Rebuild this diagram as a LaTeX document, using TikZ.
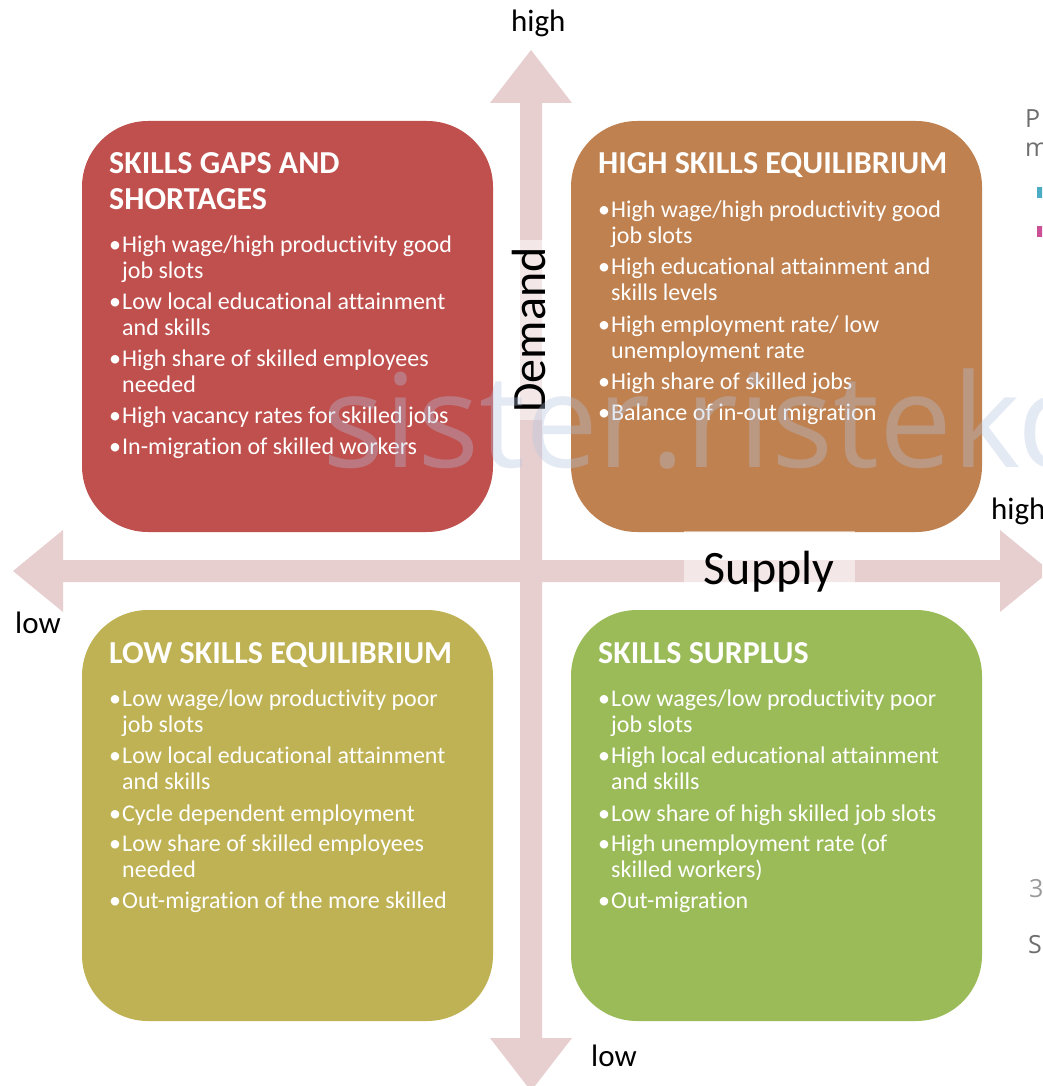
\documentclass[tikz,border=0pt]{standalone}
\usepackage{fontspec}
\setmainfont{Carlito}[Ligatures=NoCommon]
\newfontfamily\wmfont{Open Sans}
\definecolor{redbox}{RGB}{192,80,77}
\definecolor{orangebox}{RGB}{191,129,80}
\definecolor{olivebox}{RGB}{191,178,84}
\definecolor{greenbox}{RGB}{155,187,89}
\definecolor{arrowc}{RGB}{231,207,208}
\definecolor{wmc}{RGB}{180,196,224}
\definecolor{sidegray}{RGB}{110,110,110}
\definecolor{sideteal}{RGB}{75,172,198}
\definecolor{sidemag}{RGB}{204,80,150}
\newcommand\bl[4]{\node[btext] (#1) at (#2,#3) {\makebox[13pt][l]{•}#4};}
\newcommand\cl[4]{\node[btext] (#1) at (#2+13,#3) {#4};}
\newcommand\tl[4]{\node[ttext] (#1) at (#2,#3) {#4};}
\begin{document}
\begin{tikzpicture}[x=1pt,y=-1pt,
  quad/.style={rectangle, rounded corners=66pt, minimum width=411pt, minimum height=411pt, inner sep=0pt, draw=none},
  btext/.style={anchor=base west, inner sep=0pt, text=white, font=\fontsize{24}{26}\selectfont},
  ttext/.style={anchor=base west, inner sep=0pt, text=white, font=\fontsize{32}{35}\selectfont\bfseries},
  axlbl/.style={inner sep=0pt, text=black, font=\fontsize{31}{32}\selectfont},
  biglbl/.style={inner sep=0pt, text=black, font=\fontsize{48}{50}\selectfont},
  lblbg/.style={rectangle, fill=white, fill opacity=0.5, inner sep=0pt, draw=none},
  side/.style={anchor=base west, inner sep=0pt, text=sidegray, font=\wmfont\fontsize{25}{26}\selectfont}]
\useasboundingbox (0,0) rectangle (1042,1086);
\clip (0,0) rectangle (1042,1086);
\fill[white] (0,0) rectangle (1042,1086);
% axes
\fill[arrowc] (13,571) -- (63,530) -- (63,560) -- (1000,560) -- (1000,530) -- (1050,571)
  -- (1000,612) -- (1000,582) -- (63,582) -- (63,612) -- cycle;
\fill[arrowc] (531,50) -- (572,103) -- (542,103) -- (542,1038) -- (572,1038) -- (531,1091)
  -- (490,1038) -- (520,1038) -- (520,103) -- (490,103) -- cycle;
% quadrants
\node[quad, fill=redbox] (gaps) at (287.5,326.5) {};
\node[quad, fill=orangebox] (hse) at (776.5,326.5) {};
\node[quad, fill=olivebox] (lse) at (287.5,815.5) {};
\node[quad, fill=greenbox] (surplus) at (776.5,815.5) {};
% axis labels
\node[lblbg, minimum width=171pt, minimum height=78pt] (supplybg) at (769.5,570) {};
\node[biglbl, anchor=base] (supply) at (769,584) {Supply};
\node[lblbg, minimum width=60pt, minimum height=180pt] (demandbg) at (536,330) {};
\node[biglbl, anchor=base, rotate=90] (demand) at (545,330) {Demand};
\node[axlbl, anchor=base west] (vhigh) at (511,32) {high};
\node[axlbl, anchor=base west] (vlow) at (591,1066) {low};
\node[axlbl, anchor=base west] (hhigh) at (991,519) {high};
\node[axlbl, anchor=base west] (hlow) at (15,633) {low};
% red
\tl{r0}{109}{174}{SKILLS GAPS AND}
\tl{r00}{109}{209}{SHORTAGES}
\bl{r1}{109}{252}{High wage/high productivity good}
\cl{r2}{109}{278}{job slots}
\bl{r3}{109}{309}{Low local educational attainment}
\cl{r4}{109}{335}{and skills}
\bl{r5}{109}{366}{High share of skilled employees}
\cl{r6}{109}{392}{needed}
\bl{r7}{109}{423}{High vacancy rates for skilled jobs}
\bl{r8}{109}{454}{In-migration of skilled workers}
% orange
\tl{o0}{598}{174}{HIGH SKILLS EQUILIBRIUM}
\bl{o1}{598}{217}{High wage/high productivity good}
\cl{o2}{598}{243}{job slots}
\bl{o3}{598}{274}{High educational attainment and}
\cl{o4}{598}{300}{skills levels}
\bl{o5}{598}{332}{High employment rate/ low}
\cl{o6}{598}{358}{unemployment rate}
\bl{o7}{598}{389}{High share of skilled jobs}
\bl{o8}{598}{420}{Balance of in-out migration}
% olive
\tl{l0}{109}{663}{LOW SKILLS EQUILIBRIUM}
\bl{l1}{109}{706}{Low wage/low productivity poor}
\cl{l2}{109}{732}{job slots}
\bl{l3}{109}{763}{Low local educational attainment}
\cl{l4}{109}{789}{and skills}
\bl{l5}{109}{821}{Cycle dependent employment}
\bl{l6}{109}{851}{Low share of skilled employees}
\cl{l7}{109}{877}{needed}
\bl{l8}{109}{908}{Out-migration of the more skilled}
% green
\tl{g0}{598}{663}{SKILLS SURPLUS}
\bl{g1}{598}{706}{Low wages/low productivity poor}
\cl{g2}{598}{732}{job slots}
\bl{g3}{598}{763}{High local educational attainment}
\cl{g4}{598}{789}{and skills}
\bl{g5}{598}{821}{Low share of high skilled job slots}
\bl{g6}{598}{851}{High unemployment rate (of}
\cl{g7}{598}{877}{skilled workers)}
\bl{g8}{598}{908}{Out-migration}
% fragments of neighbouring content at right edge
\node[side] (sp) at (1025,128) {P};
\node[side] (sm) at (1025,157) {m};
\node[rectangle, fill=sideteal, inner sep=0pt, minimum width=7pt, minimum height=11pt] (steal) at (1040,192.5) {};
\node[rectangle, fill=sidemag, inner sep=0pt, minimum width=7pt, minimum height=11pt] (smag) at (1040,231) {};
\node[side, text=sidegray!70] (s3) at (1029,897) {3};
\node[side] (ss) at (1028,953) {S};
% watermark
\node[anchor=base west, inner sep=0pt, text=wmc, text opacity=0.35, font=\wmfont\fontsize{130}{130}\selectfont] (wm) at (322,467) {sister.ristekd};
\end{tikzpicture}
\end{document}
